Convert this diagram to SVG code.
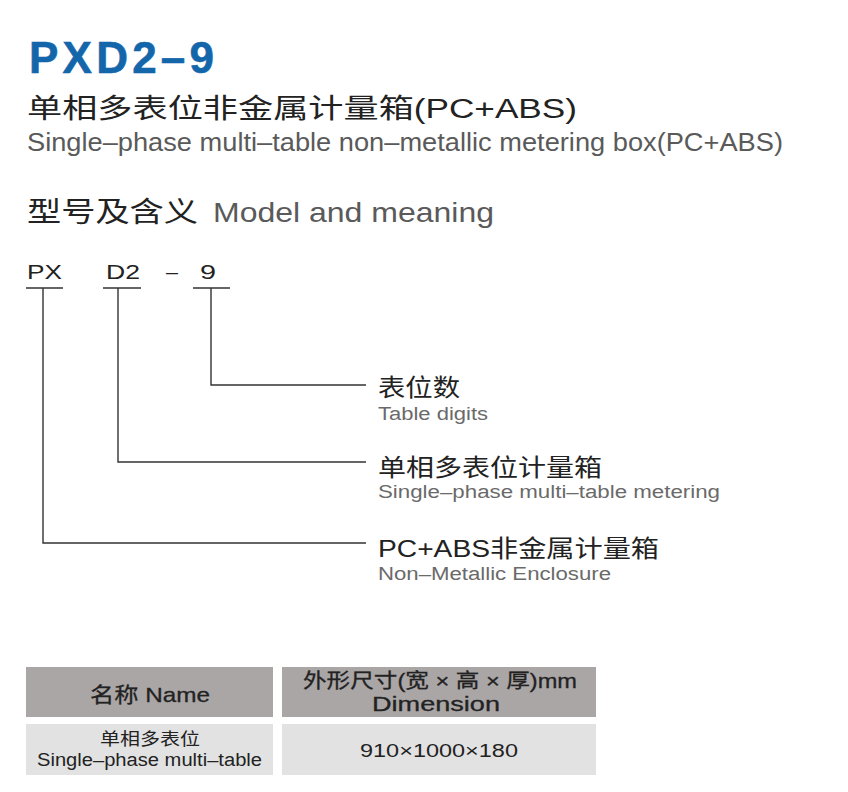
<svg xmlns="http://www.w3.org/2000/svg" width="848" height="792" viewBox="0 0 848 792">
<style>
text{font-family:"Liberation Sans","Noto Sans CJK SC",sans-serif;}
.dk{fill:#222;}
.gr{fill:#5a5a5a;}
.lg{fill:#6a6a6a;}
.ln{stroke:#333;stroke-width:1.4;fill:none;}
.hd{fill:#aaa6a6;}
.rw{fill:#e2e2e2;}
</style>
<rect width="848" height="792" fill="#fff"/>
<g id="title">
<text x="29" y="73" font-size="44" font-weight="bold" fill="#1466ab" stroke="#1466ab" stroke-width="0.6" textLength="185" lengthAdjust="spacing">PXD2–9</text>
<text x="27" y="118" font-size="27" class="dk" textLength="550" lengthAdjust="spacingAndGlyphs">单相多表位非金属计量箱(PC+ABS)</text>
<text x="27" y="151" font-size="26" class="gr" textLength="756" lengthAdjust="spacingAndGlyphs">Single–phase multi–table non–metallic metering box(PC+ABS)</text>
<text x="27" y="222" font-size="28" class="dk" textLength="171" lengthAdjust="spacingAndGlyphs">型号及含义</text>
<text x="213" y="222" font-size="28" class="gr" textLength="281" lengthAdjust="spacingAndGlyphs">Model and meaning</text>
</g>
<g id="code">
<text x="27" y="279" font-size="20" class="dk" textLength="35" lengthAdjust="spacingAndGlyphs">PX</text>
<text x="106" y="279" font-size="20" class="dk" textLength="34" lengthAdjust="spacingAndGlyphs">D2</text>
<text x="166" y="279" font-size="20" class="dk" textLength="12" lengthAdjust="spacingAndGlyphs">–</text>
<text x="200" y="279" font-size="20" class="dk" textLength="16" lengthAdjust="spacingAndGlyphs">9</text>
</g>
<g id="connectors">
<path class="ln" d="M26 288H63M103 288H141M193 288H230"/>
<path class="ln" d="M43 288V543H366"/>
<path class="ln" d="M118 288V462H366"/>
<path class="ln" d="M211 288V385H366"/>
</g>
<g id="label-digits">
<text x="378" y="396" font-size="24" class="dk" textLength="82" lengthAdjust="spacingAndGlyphs">表位数</text>
<text x="378" y="420" font-size="18" class="lg" textLength="110" lengthAdjust="spacingAndGlyphs">Table digits</text>
</g>
<g id="label-metering">
<text x="378" y="476" font-size="24" class="dk" textLength="224" lengthAdjust="spacingAndGlyphs">单相多表位计量箱</text>
<text x="378" y="498" font-size="18" class="lg" textLength="342" lengthAdjust="spacingAndGlyphs">Single–phase multi–table metering</text>
</g>
<g id="label-enclosure">
<text x="378" y="557" font-size="24" class="dk" textLength="281" lengthAdjust="spacingAndGlyphs">PC+ABS非金属计量箱</text>
<text x="378" y="580" font-size="18" class="lg" textLength="233" lengthAdjust="spacingAndGlyphs">Non–Metallic Enclosure</text>
</g>
<g id="table">
<rect class="hd" x="26" y="667" width="247" height="50"/>
<rect class="hd" x="282" y="667" width="314" height="50"/>
<rect class="rw" x="26" y="724" width="247" height="51"/>
<rect class="rw" x="282" y="724" width="314" height="51"/>
<text x="90" y="702" font-size="21" class="dk" stroke="#222" stroke-width="0.3" textLength="120" lengthAdjust="spacingAndGlyphs">名称 Name</text>
<text x="303" y="688" font-size="20" class="dk" stroke="#222" stroke-width="0.3" textLength="274" lengthAdjust="spacingAndGlyphs">外形尺寸(宽 × 高 × 厚)mm</text>
<text x="372" y="711" font-size="20" class="dk" stroke="#222" stroke-width="0.3" textLength="128" lengthAdjust="spacingAndGlyphs">Dimension</text>
<text x="100" y="745" font-size="17" class="dk" textLength="100" lengthAdjust="spacingAndGlyphs">单相多表位</text>
<text x="37" y="766" font-size="18" class="dk" textLength="225" lengthAdjust="spacingAndGlyphs">Single–phase multi–table</text>
<text x="360" y="757" font-size="18" class="dk" textLength="158" lengthAdjust="spacingAndGlyphs">910×1000×180</text>
</g>
</svg>
